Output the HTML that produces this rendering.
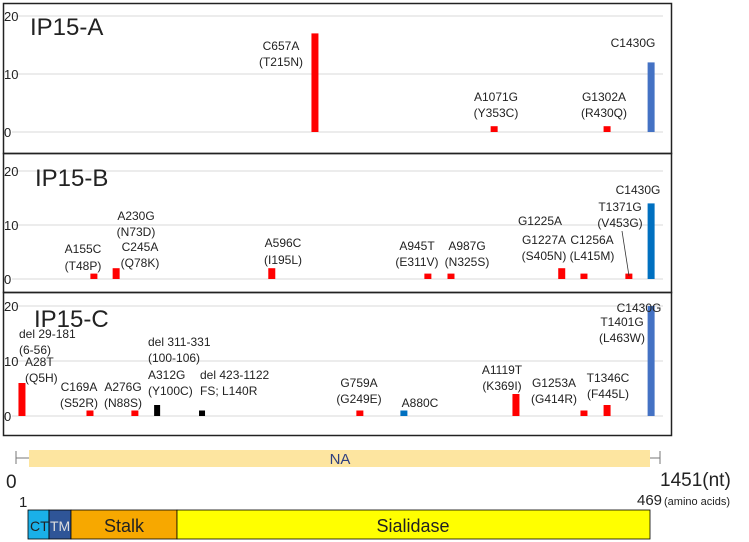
<!DOCTYPE html>
<html><head><meta charset="utf-8"><style>
body{margin:0;background:#fff}
svg{display:block;font-family:"Liberation Sans",sans-serif}
</style></head><body>
<svg id="chart" width="749" height="542" viewBox="0 0 749 542">
<g id="panels"></g>
<g id="labels" font-size="12" fill="#222">
 <!-- Panel A -->
 <text x="30" y="35" font-size="24">IP15-A</text>
 <text x="281" y="50" text-anchor="middle">C657A</text><text x="281" y="66" text-anchor="middle">(T215N)</text>
 <text x="496" y="101" text-anchor="middle">A1071G</text><text x="496" y="117" text-anchor="middle">(Y353C)</text>
 <text x="604" y="101" text-anchor="middle">G1302A</text><text x="604" y="117" text-anchor="middle">(R430Q)</text>
 <text x="633" y="47" text-anchor="middle">C1430G</text>
 <!-- Panel B -->
 <text x="35" y="186" font-size="24">IP15-B</text>
 <text x="83" y="253" text-anchor="middle">A155C</text><text x="83" y="270" text-anchor="middle">(T48P)</text>
 <text x="136" y="220" text-anchor="middle">A230G</text><text x="136" y="236" text-anchor="middle">(N73D)</text>
 <text x="140" y="251" text-anchor="middle">C245A</text><text x="140" y="267" text-anchor="middle">(Q78K)</text>
 <text x="283" y="247" text-anchor="middle">A596C</text><text x="283" y="264" text-anchor="middle">(I195L)</text>
 <text x="417" y="250" text-anchor="middle">A945T</text><text x="417" y="266" text-anchor="middle">(E311V)</text>
 <text x="467" y="250" text-anchor="middle">A987G</text><text x="467" y="266" text-anchor="middle">(N325S)</text>
 <text x="540" y="225" text-anchor="middle">G1225A</text>
 <text x="544" y="244" text-anchor="middle">G1227A</text><text x="544" y="260" text-anchor="middle">(S405N)</text>
 <text x="592" y="244" text-anchor="middle">C1256A</text><text x="592" y="260" text-anchor="middle">(L415M)</text>
 <text x="620" y="211" text-anchor="middle">T1371G</text><text x="620" y="227" text-anchor="middle">(V453G)</text>
 <text x="638" y="194" text-anchor="middle">C1430G</text>
 <line x1="622" y1="231" x2="629" y2="276" stroke="#333" stroke-width="0.8"/>
 <!-- Panel C -->
 <text x="34" y="327" font-size="24">IP15-C</text>
 <text x="19" y="338">del 29-181</text><text x="19" y="354">(6-56)</text>
 <text x="25" y="366">A28T</text><text x="25" y="382">(Q5H)</text>
 <text x="79" y="391" text-anchor="middle">C169A</text><text x="79" y="407" text-anchor="middle">(S52R)</text>
 <text x="123" y="391" text-anchor="middle">A276G</text><text x="123" y="407" text-anchor="middle">(N88S)</text>
 <text x="148" y="346">del 311-331</text><text x="148" y="362">(100-106)</text>
 <text x="148" y="379">A312G</text><text x="148" y="395">(Y100C)</text>
 <text x="200" y="379">del 423-1122</text><text x="200" y="395">FS; L140R</text>
 <text x="359" y="387" text-anchor="middle">G759A</text><text x="359" y="403" text-anchor="middle">(G249E)</text>
 <text x="420" y="407" text-anchor="middle">A880C</text>
 <text x="502" y="374" text-anchor="middle">A1119T</text><text x="502" y="390" text-anchor="middle">(K369I)</text>
 <text x="554" y="387" text-anchor="middle">G1253A</text><text x="554" y="403" text-anchor="middle">(G414R)</text>
 <text x="608" y="382" text-anchor="middle">T1346C</text><text x="608" y="398" text-anchor="middle">(F445L)</text>
 <text x="622" y="326" text-anchor="middle">T1401G</text><text x="622" y="342" text-anchor="middle">(L463W)</text>
 <text x="639" y="312" text-anchor="middle">C1430G</text>
</g>
<!-- Gene map -->
<g>
 <line x1="16" y1="458" x2="660" y2="458" stroke="#777" stroke-width="1"/>
 <line x1="16" y1="451" x2="16" y2="464" stroke="#777"/>
 <line x1="660" y1="451" x2="660" y2="464" stroke="#777"/>
 <rect x="29" y="450" width="621" height="17" fill="#fde5a0"/>
 <text x="340" y="464" text-anchor="middle" font-size="15" fill="#2f3f7f">NA</text>
 <text x="6" y="488" font-size="19" fill="#222">0</text>
 <text x="660" y="486" font-size="19" fill="#222">1451(nt)</text>
 <text x="19" y="507" font-size="15" fill="#222">1</text>
 <text x="637" y="505" font-size="15" fill="#222">469</text>
 <text x="664" y="505" font-size="11" fill="#222">(amino acids)</text>
 <rect x="28" y="510" width="21" height="29" fill="#1ab0e8" stroke="#000" stroke-width="0.8"/>
 <rect x="49" y="510" width="22" height="29" fill="#2f5597" stroke="#000" stroke-width="0.8"/>
 <rect x="71" y="510" width="106" height="29" fill="#f7a800" stroke="#000" stroke-width="0.8"/>
 <rect x="177" y="510" width="473" height="29" fill="#ffff00" stroke="#000" stroke-width="0.8"/>
 <text x="30" y="531" font-size="14" fill="#222">CT</text>
 <text x="50" y="531" font-size="14" fill="#ddd">TM</text>
 <text x="124" y="532" font-size="18" text-anchor="middle" fill="#222">Stalk</text>
 <text x="413" y="532" font-size="18" text-anchor="middle" fill="#222">Sialidase</text>
</g>
</svg>
<script>
const panelNames = ["IP15-A","IP15-B","IP15-C"];
const yTicks = [0,10,20];
const posA = [657,1068,1327,1428];
const valA = [17,1,1,12];
const colA = ["red","red","red","blue"];
const posB = [150,201,558,916,969,1223,1274,1377,1428];
const valB = [1,2,2,1,1,2,1,1,14];
const colB = ["red","red","red","red","red","red","red","red","blue2"];
const posC = [-15,141,244,295,398,760,861,1118,1274,1327,1428];
const valC = [6,1,1,2,1,1,1,4,1,2,20];
const colC = ["red","red","red","black","black","red","blue2","red","red","red","blue"];

const colors = {red:"#ff0000",blue:"#4472c4",blue2:"#0070c0",black:"#000"};
const NS="http://www.w3.org/2000/svg";
function xs(nt){return 28.5+0.436*nt;}
const panelGeom=[{top:3,bot:153,zero:132,unit:5.8},{top:153,bot:292,zero:279,unit:5.4},{top:292,bot:435,zero:416,unit:5.5}];
const series=[[posA,valA,colA],[posB,valB,colB],[posC,valC,colC]];
const g=document.getElementById('panels');
function mk(tag,attrs){const e=document.createElementNS(NS,tag);for(const k in attrs)e.setAttribute(k,attrs[k]);g.appendChild(e);return e;}
panelGeom.forEach((p,i)=>{
  const ys=v=>p.zero-v*p.unit;
  const box=mk('rect',{x:3.5,y:p.top+0.5,width:668,height:p.bot-p.top,fill:'none',stroke:'#222','stroke-width':1.5});
  
  
  yTicks.forEach(t=>{
    const l=mk('line',{x1:12,x2:663,y1:ys(t),y2:ys(t),stroke:'#d9d9d9','stroke-width':1});
    
    
    const tx=mk('text',{x:4,y:ys(t)+5,'font-size':13,fill:'#222'});
    tx.textContent=t;
    
    
  });
  const [pos,val,col]=series[i];
  pos.forEach((n,j)=>{
    const w=(col[j]==='black'?6:7);
    const r=mk('rect',{x:xs(n)-w/2,y:ys(val[j]),width:w,height:val[j]*p.unit,fill:colors[col[j]]});
    
    
  });
});
</script>
</body></html>
